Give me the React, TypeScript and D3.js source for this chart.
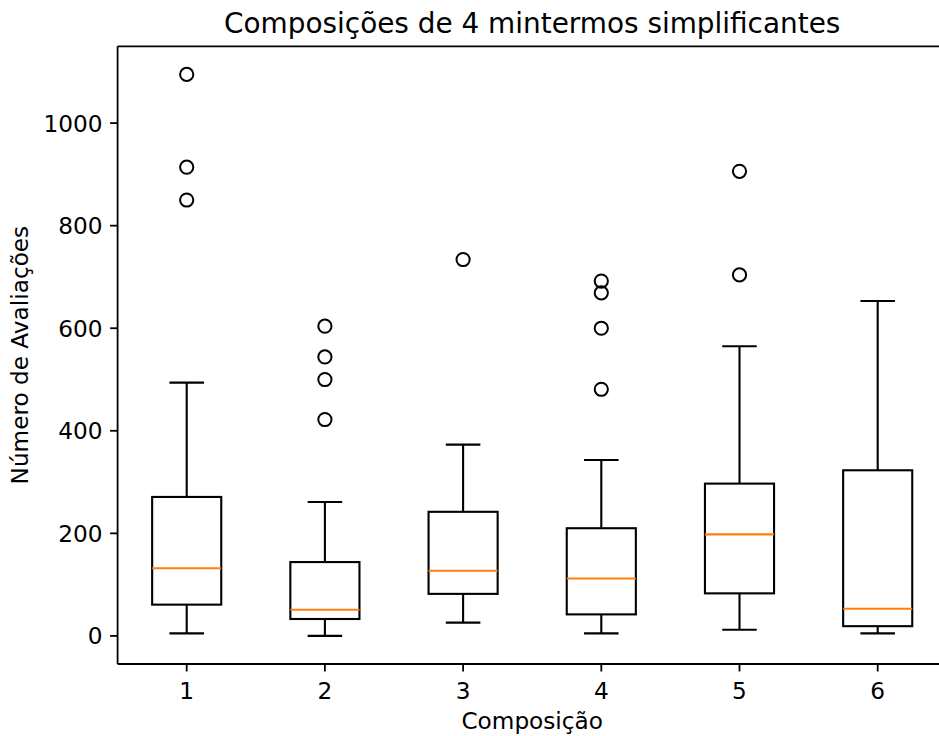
import React from "react";
import * as d3 from "d3";

// Box statistics per composition
const categories = ["1", "2", "3", "4", "5", "6"];
const whiskerLow = [5, 0, 26, 5, 12, 5];
const q1 = [61, 33, 82, 42, 83, 19];
const medians = [132, 51, 127, 112, 198, 53];
const q3 = [271, 144, 242, 210, 297, 323];
const whiskerHigh = [494, 261, 373, 343, 565, 653];
const outliers = [
  [1095, 914, 850],
  [604, 544, 500, 422],
  [734],
  [692, 669, 600, 481],
  [906, 704],
  [],
];
const yTicks = [0, 200, 400, 600, 800, 1000];

const W = 939;
const H = 736;
const plot = { left: 117.6, right: 946.8, top: 46.3, bottom: 664 };
const FONT = "'DejaVu Sans', sans-serif";
const TICK_FS = 23.2;
const TITLE_FS = 27.9;

export default function App() {
  const x = d3.scaleLinear().domain([0.5, 6.5]).range([plot.left, plot.right]);
  const y = d3.scaleLinear().domain([-54.75, 1149.75]).range([plot.bottom, plot.top]);
  const boxHalf = x(1.25) - x(1);
  const capHalf = x(1.125) - x(1);
  const lw = 2.1;

  return (
    <svg
      width={W}
      height={H}
      style={{ position: "absolute", left: 0, top: 0, display: "block", background: "#fff" }}
      fontFamily={FONT}
    >
      <rect x={0} y={0} width={W} height={H} fill="#fff" />
      {categories.map((c, i) => {
        const cx = x(i + 1);
        return (
          <g key={c} stroke="#000" strokeWidth={lw} fill="none">
            {/* whiskers */}
            <line x1={cx} x2={cx} y1={y(q1[i])} y2={y(whiskerLow[i])} />
            <line x1={cx} x2={cx} y1={y(q3[i])} y2={y(whiskerHigh[i])} />
            {/* caps */}
            <line x1={cx - capHalf} x2={cx + capHalf} y1={y(whiskerLow[i])} y2={y(whiskerLow[i])} />
            <line x1={cx - capHalf} x2={cx + capHalf} y1={y(whiskerHigh[i])} y2={y(whiskerHigh[i])} />
            {/* box */}
            <rect
              x={cx - boxHalf}
              y={y(q3[i])}
              width={2 * boxHalf}
              height={y(q1[i]) - y(q3[i])}
            />
            {/* median */}
            <line
              x1={cx - boxHalf}
              x2={cx + boxHalf}
              y1={y(medians[i])}
              y2={y(medians[i])}
              stroke="#ff7f0e"
            />
            {/* fliers */}
            {outliers[i].map((v, j) => (
              <circle key={j} cx={cx} cy={y(v)} r={6.6} strokeWidth={2} />
            ))}
          </g>
        );
      })}

      {/* spines */}
      <g stroke="#000" strokeWidth={1.8} fill="none">
        <line x1={plot.left} x2={plot.right} y1={plot.top} y2={plot.top} />
        <line x1={plot.left} x2={plot.right} y1={plot.bottom} y2={plot.bottom} />
        <line x1={plot.left} x2={plot.left} y1={plot.top} y2={plot.bottom} />
        <line x1={plot.right} x2={plot.right} y1={plot.top} y2={plot.bottom} />
      </g>

      {/* y axis ticks */}
      {yTicks.map((t) => (
        <g key={t}>
          <line x1={plot.left - 7.5} x2={plot.left} y1={y(t)} y2={y(t)} stroke="#000" strokeWidth={1.8} />
          <text
            x={plot.left - 15}
            y={y(t)}
            textAnchor="end"
            dominantBaseline="central"
            fontSize={TICK_FS}
            fill="#000"
          >
            {t}
          </text>
        </g>
      ))}

      {/* x axis ticks */}
      {categories.map((c, i) => (
        <g key={c}>
          <line x1={x(i + 1)} x2={x(i + 1)} y1={plot.bottom} y2={plot.bottom + 7.5} stroke="#000" strokeWidth={1.8} />
          <text x={x(i + 1)} y={plot.bottom + 34.5} textAnchor="middle" fontSize={TICK_FS} fill="#000">
            {c}
          </text>
        </g>
      ))}

      {/* labels */}
      <text x={(plot.left + plot.right) / 2} y={729} textAnchor="middle" fontSize={TICK_FS} fill="#000">
        Composição
      </text>
      <text
        transform={`translate(28, ${(plot.top + plot.bottom) / 2}) rotate(-90)`}
        textAnchor="middle"
        fontSize={TICK_FS}
        fill="#000"
      >
        Número de Avaliações
      </text>
      <text x={(plot.left + plot.right) / 2} y={33} textAnchor="middle" fontSize={TITLE_FS} fill="#000">
        Composições de 4 mintermos simplificantes
      </text>
    </svg>
  );
}
